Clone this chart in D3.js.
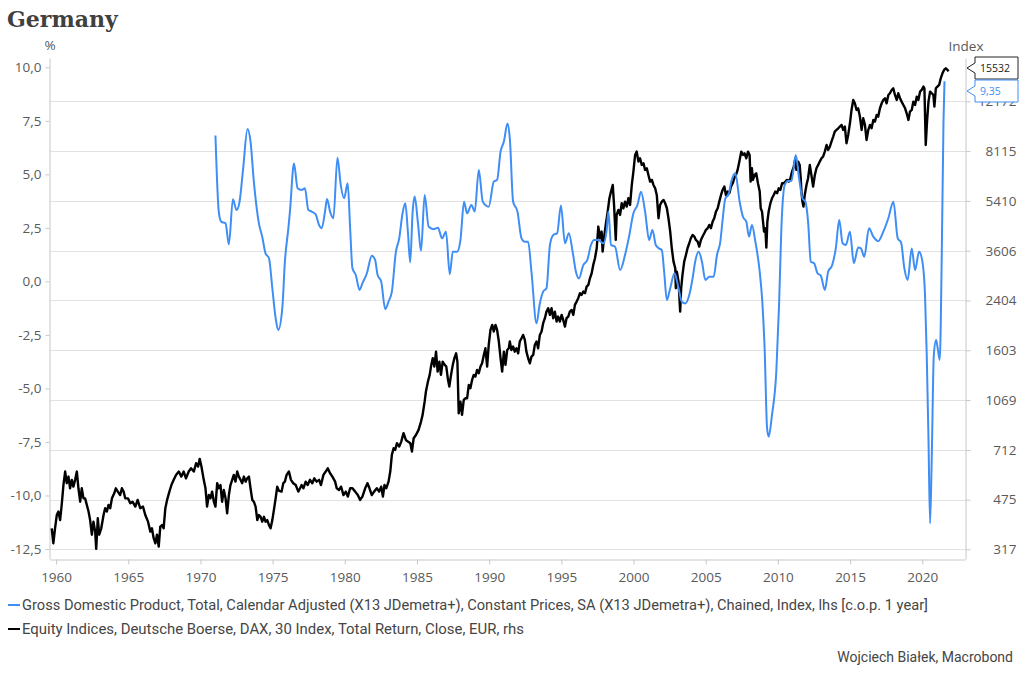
<!DOCTYPE html>
<html>
<head>
<meta charset="utf-8">
<script src="https://cdn.jsdelivr.net/npm/d3@7"></script>
<style>
  html, body { margin: 0; padding: 0; background: #fff; }
  svg { display: block; }
</style>
</head>
<body>
<svg id="chart" width="1024" height="676"></svg>
<script>
// ---------------- DATA ----------------
const titleText = "Germany";
const leftUnit = "%";
const rightUnit = "Index";
const xTickYears = [1960, 1965, 1970, 1975, 1980, 1985, 1990, 1995, 2000, 2005, 2010, 2015, 2020];
const leftTicks = [-12.5, -10, -7.5, -5, -2.5, 0, 2.5, 5, 7.5, 10];
const rightTicks = [317, 475, 712, 1069, 1603, 2404, 3606, 5410, 8115, 12172];
const legendLabels = [
  "Gross Domestic Product, Total, Calendar Adjusted (X13 JDemetra+), Constant Prices, SA (X13 JDemetra+), Chained, Index, lhs [c.o.p. 1 year]",
  "Equity Indices, Deutsche Boerse, DAX, 30 Index, Total Return, Close, EUR, rhs"
];
const creditText = "Wojciech Białek, Macrobond";

// GDP, % change over 1 year (lhs)
const gdpYears = [1971.04,1971.27,1971.44,1971.74,1971.97,1972.25,1972.50,1972.71,1972.96,1973.26,1973.47,1973.70,1974.05,1974.28,1974.51,1974.75,1974.98,1975.21,1975.39,1975.67,1975.85,1976.09,1976.20,1976.48,1976.73,1977.01,1977.24,1977.47,1977.70,1977.98,1978.22,1978.40,1978.63,1978.77,1978.98,1979.21,1979.49,1979.72,1979.95,1980.20,1980.37,1980.53,1980.76,1981.02,1981.22,1981.53,1981.87,1982.10,1982.27,1982.52,1982.80,1983.03,1983.26,1983.54,1983.77,1984.00,1984.19,1984.37,1984.53,1984.70,1984.84,1985.07,1985.28,1985.53,1985.81,1986.16,1986.46,1986.73,1987.01,1987.27,1987.48,1987.78,1988.01,1988.26,1988.47,1988.77,1989.00,1989.28,1989.56,1989.97,1990.32,1990.55,1990.79,1991.02,1991.27,1991.43,1991.66,1991.96,1992.24,1992.47,1992.70,1992.93,1993.28,1993.51,1993.74,1993.97,1994.21,1994.44,1994.71,1994.97,1995.25,1995.52,1995.78,1996.01,1996.22,1996.52,1996.80,1997.05,1997.28,1997.56,1997.91,1998.14,1998.26,1998.44,1998.72,1999.07,1999.41,1999.69,1999.99,2000.27,2000.52,2000.80,2001.08,2001.31,2001.54,2001.77,2001.96,2002.12,2002.31,2002.54,2002.84,2003.07,2003.35,2003.58,2003.86,2004.09,2004.27,2004.51,2004.74,2004.97,2005.25,2005.55,2005.78,2006.01,2006.17,2006.36,2006.59,2006.77,2007.05,2007.35,2007.58,2007.81,2008.00,2008.20,2008.44,2008.74,2008.92,2009.08,2009.25,2009.36,2009.59,2009.89,2010.08,2010.24,2010.47,2010.70,2010.94,2011.24,2011.47,2011.70,2011.91,2012.09,2012.28,2012.51,2012.74,2012.97,2013.25,2013.48,2013.76,2014.01,2014.25,2014.48,2014.71,2014.99,2015.26,2015.56,2015.75,2015.98,2016.31,2016.61,2016.95,2017.30,2017.65,2018.00,2018.30,2018.53,2018.76,2018.99,2019.27,2019.50,2019.78,2020.01,2020.19,2020.31,2020.43,2020.54,2020.66,2020.80,2020.96,2021.07,2021.21,2021.35,2021.47,2021.54];
const gdpValues = [6.81,3.26,2.79,2.71,1.73,3.84,3.33,3.72,5.28,7.12,6.53,4.66,2.71,2.09,1.31,1.08,-0.32,-1.72,-2.27,-1.26,0.92,2.48,3.26,5.51,4.35,4.27,4.35,3.34,3.26,3.13,2.63,2.48,3.26,3.85,3.26,2.95,5.78,4.50,3.88,4.58,2.48,0.61,0.30,-0.40,-0.09,0.38,1.20,1.00,0.30,-0.01,-1.30,-0.94,-0.48,1.39,2.01,3.18,3.65,2.32,0.89,3.26,3.96,2.71,1.42,4.03,2.55,2.44,2.51,2.01,2.32,0.33,1.39,1.39,1.93,3.72,3.18,3.57,3.26,5.20,3.72,3.49,4.66,4.74,6.06,6.53,7.38,6.68,3.72,3.26,2.01,1.85,1.85,0.45,-1.96,-1.03,-0.48,-0.32,1.70,2.17,2.25,3.54,1.78,2.25,1.39,0.45,0.14,0.76,1.00,1.70,1.93,1.93,1.78,2.40,3.26,1.70,1.62,0.53,1.23,2.09,3.18,3.57,4.19,3.26,1.93,2.40,1.70,1.54,1.46,0.45,-0.87,-0.32,0.38,-0.17,-0.95,-1.03,-0.64,0.14,0.92,1.39,0.92,0.07,0.22,0.22,1.23,1.85,2.87,3.88,4.07,4.66,5.05,3.72,3.02,2.79,2.09,2.63,1.85,0.45,-0.95,-3.13,-6.86,-7.25,-6.24,-4.21,-1.10,2.48,4.50,4.69,4.69,5.90,4.81,3.88,3.72,2.79,0.92,0.85,0.38,0.27,-0.40,0.45,0.76,1.54,2.87,1.78,1.70,2.32,0.85,1.58,1.54,1.15,2.48,2.09,1.88,2.32,2.95,3.72,2.01,1.82,0.61,0.07,1.54,0.53,1.39,0.92,-0.64,-3.44,-7.33,-11.30,-8.11,-3.44,-2.74,-3.13,-3.67,1.23,7.46,9.35];

// DAX total return index (rhs, log scale)
const daxYears = [1959.70,1959.81,1959.93,1960.05,1960.16,1960.28,1960.39,1960.51,1960.63,1960.74,1960.86,1960.97,1961.09,1961.20,1961.32,1961.44,1961.55,1961.67,1961.78,1961.90,1962.01,1962.13,1962.25,1962.36,1962.48,1962.59,1962.71,1962.78,1962.89,1962.99,1963.13,1963.29,1963.40,1963.52,1963.63,1963.75,1963.87,1964.03,1964.14,1964.28,1964.44,1964.56,1964.68,1964.79,1964.98,1965.14,1965.30,1965.49,1965.65,1965.83,1966.02,1966.18,1966.37,1966.53,1966.64,1966.76,1966.88,1966.99,1967.11,1967.22,1967.34,1967.45,1967.57,1967.69,1967.85,1967.99,1968.15,1968.31,1968.50,1968.68,1968.84,1969.00,1969.19,1969.35,1969.54,1969.70,1969.84,1969.95,1970.07,1970.23,1970.35,1970.46,1970.58,1970.69,1970.81,1970.93,1971.04,1971.16,1971.27,1971.39,1971.50,1971.62,1971.74,1971.85,1971.97,1972.08,1972.20,1972.31,1972.43,1972.55,1972.66,1972.78,1972.89,1973.01,1973.13,1973.24,1973.36,1973.47,1973.59,1973.70,1973.82,1973.94,1974.05,1974.17,1974.28,1974.40,1974.51,1974.63,1974.75,1974.86,1974.98,1975.09,1975.21,1975.32,1975.44,1975.62,1975.74,1975.85,1975.97,1976.13,1976.27,1976.43,1976.60,1976.78,1976.90,1977.01,1977.13,1977.29,1977.43,1977.59,1977.75,1977.89,1978.05,1978.22,1978.35,1978.52,1978.68,1978.82,1978.98,1979.14,1979.33,1979.44,1979.60,1979.74,1979.91,1980.07,1980.21,1980.37,1980.53,1980.72,1980.90,1981.06,1981.22,1981.41,1981.57,1981.71,1981.87,1982.03,1982.22,1982.38,1982.52,1982.64,1982.75,1982.87,1983.03,1983.15,1983.26,1983.38,1983.49,1983.61,1983.77,1983.91,1984.07,1984.23,1984.37,1984.54,1984.65,1984.77,1984.93,1985.11,1985.28,1985.39,1985.53,1985.62,1985.76,1985.88,1985.99,1986.09,1986.20,1986.32,1986.43,1986.55,1986.66,1986.78,1986.92,1987.03,1987.15,1987.24,1987.36,1987.48,1987.59,1987.71,1987.80,1987.89,1988.01,1988.12,1988.24,1988.35,1988.47,1988.59,1988.70,1988.82,1988.93,1989.05,1989.16,1989.28,1989.40,1989.51,1989.63,1989.74,1989.86,1989.97,1990.09,1990.21,1990.32,1990.44,1990.55,1990.67,1990.79,1990.90,1991.02,1991.13,1991.25,1991.36,1991.43,1991.54,1991.66,1991.77,1991.89,1992.01,1992.12,1992.24,1992.35,1992.47,1992.58,1992.70,1992.82,1992.93,1993.05,1993.16,1993.28,1993.39,1993.51,1993.63,1993.74,1993.86,1993.97,1994.09,1994.21,1994.32,1994.44,1994.55,1994.67,1994.78,1994.90,1995.02,1995.13,1995.25,1995.36,1995.48,1995.59,1995.71,1995.83,1995.94,1996.06,1996.17,1996.29,1996.40,1996.52,1996.64,1996.75,1996.87,1996.98,1997.10,1997.21,1997.33,1997.45,1997.56,1997.68,1997.79,1997.86,1997.98,1998.09,1998.21,1998.33,1998.44,1998.56,1998.65,1998.77,1998.83,1998.95,1999.07,1999.18,1999.30,1999.41,1999.53,1999.64,1999.76,1999.88,1999.99,2000.11,2000.22,2000.34,2000.45,2000.57,2000.69,2000.80,2000.92,2001.03,2001.15,2001.27,2001.38,2001.50,2001.61,2001.73,2001.84,2001.96,2002.08,2002.19,2002.31,2002.42,2002.54,2002.65,2002.77,2002.89,2002.93,2003.00,2003.12,2003.23,2003.30,2003.39,2003.51,2003.63,2003.74,2003.86,2003.97,2004.09,2004.21,2004.32,2004.44,2004.55,2004.67,2004.78,2004.90,2005.01,2005.13,2005.25,2005.36,2005.48,2005.59,2005.71,2005.83,2005.94,2006.06,2006.17,2006.29,2006.40,2006.52,2006.64,2006.75,2006.87,2006.98,2007.10,2007.21,2007.33,2007.46,2007.58,2007.69,2007.81,2007.93,2008.04,2008.11,2008.20,2008.27,2008.39,2008.50,2008.62,2008.74,2008.81,2008.90,2008.97,2009.04,2009.13,2009.20,2009.27,2009.36,2009.48,2009.59,2009.71,2009.82,2009.94,2010.06,2010.17,2010.29,2010.40,2010.52,2010.63,2010.75,2010.87,2010.98,2011.10,2011.21,2011.28,2011.40,2011.51,2011.58,2011.63,2011.70,2011.77,2011.86,2011.98,2012.09,2012.21,2012.32,2012.44,2012.56,2012.67,2012.79,2012.90,2013.02,2013.13,2013.25,2013.37,2013.48,2013.60,2013.71,2013.83,2013.94,2014.06,2014.18,2014.29,2014.41,2014.52,2014.64,2014.75,2014.87,2014.99,2015.10,2015.22,2015.33,2015.45,2015.56,2015.68,2015.80,2015.91,2016.03,2016.14,2016.26,2016.38,2016.49,2016.61,2016.72,2016.84,2016.95,2017.07,2017.19,2017.30,2017.42,2017.53,2017.65,2017.76,2017.88,2017.99,2018.11,2018.23,2018.34,2018.46,2018.57,2018.69,2018.81,2018.92,2019.04,2019.15,2019.27,2019.38,2019.50,2019.62,2019.73,2019.85,2019.96,2020.08,2020.15,2020.24,2020.33,2020.43,2020.54,2020.66,2020.77,2020.84,2020.94,2021.05,2021.17,2021.28,2021.40,2021.51,2021.63,2021.75,2021.82];
const daxValues = [376,333,376,419,431,402,455,535,597,543,573,521,558,528,558,597,521,467,521,480,480,455,431,402,357,397,366,318,408,357,376,419,443,431,455,443,480,500,521,507,493,521,507,480,480,461,467,449,474,443,449,419,397,366,376,347,333,357,324,381,386,376,443,474,507,535,558,581,597,573,597,565,597,613,597,639,622,662,622,558,521,449,493,480,507,467,449,543,521,535,467,514,480,425,493,535,558,581,550,597,573,558,543,573,550,565,573,521,474,467,449,402,419,413,397,413,397,402,386,376,402,437,480,528,510,507,543,550,581,597,558,543,535,507,521,535,521,550,535,558,543,565,550,558,535,581,597,613,589,573,550,521,514,528,493,507,487,521,521,507,493,474,487,521,543,521,493,507,521,507,528,487,535,521,550,597,684,722,712,752,732,762,816,772,762,752,703,783,804,838,897,947,1055,1146,1243,1312,1423,1502,1404,1585,1348,1461,1312,1461,1423,1404,1260,1193,1312,1423,1502,1564,1461,960,1055,947,1070,1084,1084,1209,1177,1260,1312,1294,1366,1330,1404,1442,1543,1629,1404,1674,1892,1971,1867,1971,1892,1721,1502,1348,1585,1423,1607,1629,1721,1607,1652,1585,1629,1564,1721,1768,1816,1744,1585,1502,1442,1522,1543,1674,1721,1629,1816,1867,1998,2081,2196,2257,2138,2257,2081,2196,2025,2109,2025,2138,2053,1944,2081,2109,2196,2226,2138,2319,2383,2449,2550,2515,2585,2550,2692,2729,2881,3001,3212,3391,3679,4389,3991,4214,3580,4100,4509,4958,5527,5836,6160,5235,3937,4826,5026,4826,5307,5095,5379,5164,5527,5235,6160,6868,7866,8082,7450,7656,7252,7350,6962,7056,6685,6331,6417,6160,5996,5679,4696,5235,5379,5453,5307,5095,4696,4214,3679,3300,3125,2656,3042,2804,2196,2656,2961,3300,3484,3679,3832,3991,4100,4046,3937,3884,3729,3937,4046,4157,4271,4329,4449,4329,4571,4696,4958,5095,5379,5679,5915,6078,5679,5836,5757,6078,6245,6505,6685,6962,7450,8082,7866,7974,7656,8082,7866,6331,7056,6417,6685,6775,6245,5836,5095,4958,4571,4214,4329,3699,4571,4958,5307,5527,5679,5836,5757,5996,5915,6245,6245,6331,6417,6331,6505,6868,7153,7656,6962,7450,7252,6505,5836,5379,5164,5679,6160,6505,7252,6685,6078,6685,7056,7252,7450,7656,7760,8082,8533,8193,8418,8769,9132,9512,9641,9772,9906,10043,9641,9906,8650,9256,10179,11346,12309,11980,11346,11502,10747,9641,10601,10043,8887,9641,10043,9772,10459,10318,10894,10747,11502,11980,12309,12478,11980,12819,12995,13352,13535,12819,12309,12995,12478,12142,11818,11502,11043,10459,11193,11346,12142,11818,12647,12309,13174,13352,13720,13535,8533,10318,12142,13174,12995,12819,11658,13535,13720,13906,14683,15294,15715,15928,15715,15532];

// ---------------- LAYOUT ----------------
const W = 1024, H = 676;
const plot = { left: 50, right: 965, top: 58, bottom: 559 };
const blue = "#3f8ef5";
const axisColor = "#c8c8c8";
const gridColor = "#e2e2e2";
const textColor = "#5a5a5a";
const tickFont = "'Open Sans', 'Noto Sans', sans-serif";

const svg = d3.select("#chart");

const x = d3.scaleLinear().domain([1959.58, 2022.96]).range([plot.left, plot.right]);
const yL = d3.scaleLinear().domain([-12.967, 10.434]).range([plot.bottom, plot.top]);
const yR = d3.scaleLog().domain([292.9, 17320]).range([plot.bottom, plot.top]);

const gdp = d3.zip(gdpYears, gdpValues).map(([t, v]) => ({ t, v }));
const dax = d3.zip(daxYears, daxValues).map(([t, v]) => ({ t, v }));

// Title
svg.append("text")
  .attr("x", 7).attr("y", 27)
  .attr("font-family", "'DejaVu Serif', serif")
  .attr("font-weight", "bold")
  .attr("font-size", 22)
  .attr("fill", "#404040")
  .text(titleText);

// Gridlines (right-axis ticks)
svg.append("g").selectAll("line").data(rightTicks).join("line")
  .attr("x1", plot.left).attr("x2", plot.right)
  .attr("y1", d => Math.round(yR(d)) + 0.5).attr("y2", d => Math.round(yR(d)) + 0.5)
  .attr("stroke", gridColor).attr("stroke-width", 1);

function styleAxis(g) {
  g.select(".domain").attr("stroke", axisColor);
  g.selectAll(".tick line").attr("stroke", axisColor);
  g.selectAll("text").attr("fill", textColor).attr("font-family", tickFont).attr("font-size", 13.5);
}

// X axis
svg.append("g")
  .attr("transform", `translate(0,${plot.bottom + 0.5})`)
  .call(d3.axisBottom(x).tickValues(xTickYears).tickFormat(d3.format("d")).tickSize(5).tickSizeOuter(0).tickPadding(8))
  .call(styleAxis);

// Left axis
svg.append("g")
  .attr("transform", `translate(${plot.left - 0.5},0)`)
  .call(d3.axisLeft(yL).tickValues(leftTicks).tickFormat(d => d.toFixed(1).replace(".", ",")).tickSize(4).tickSizeOuter(0).tickPadding(4))
  .call(styleAxis);

// Right axis
const rAxis = svg.append("g")
  .attr("transform", `translate(${plot.right + 0.5},0)`)
  .call(d3.axisRight(yR).tickValues(rightTicks).tickFormat(d3.format("d")).tickSize(5).tickSizeOuter(0))
  .call(styleAxis);
rAxis.selectAll(".tick text").attr("text-anchor", "end").attr("x", 51);

// Units
svg.append("text").attr("x", plot.left).attr("y", 50).attr("text-anchor", "middle")
  .attr("font-family", tickFont).attr("font-size", 13.5).attr("fill", textColor).text(leftUnit);
svg.append("text").attr("x", plot.right + 1).attr("y", 51).attr("text-anchor", "middle")
  .attr("font-family", tickFont).attr("font-size", 13.5).attr("fill", textColor).text(rightUnit);

// Lines
svg.append("clipPath").attr("id", "plotclip").append("rect")
  .attr("x", plot.left).attr("y", plot.top - 4).attr("width", plot.right - plot.left).attr("height", plot.bottom - plot.top + 4);

svg.append("path").datum(dax)
  .attr("clip-path", "url(#plotclip)")
  .attr("fill", "none").attr("stroke", "#000").attr("stroke-width", 2.4).attr("stroke-linejoin", "round")
  .attr("d", d3.line().x(d => x(d.t)).y(d => yR(d.v)));

svg.append("path").datum(gdp)
  .attr("clip-path", "url(#plotclip)")
  .attr("fill", "none").attr("stroke", blue).attr("stroke-width", 2).attr("stroke-linejoin", "round")
  .attr("d", d3.line().curve(d3.curveMonotoneX).x(d => x(d.t)).y(d => yL(d.v)));

// End-value callouts (dodged around their mean position, kept inside the top)
const lastDax = dax[dax.length - 1].v;
const lastGdp = gdp[gdp.length - 1].v;
const boxL = 975, boxR = 1018, boxH = 22, tip = 967, gap = 23;
const mid = (yR(lastDax) + yL(lastGdp)) / 2;
let c1 = mid - gap / 2, c2 = mid + gap / 2;
const minC = plot.top + 10;
if (c1 < minC) { c2 += minC - c1; c1 = minC; }
function callout(cy, stroke, label, fill) {
  const top = cy - boxH / 2, bot = cy + boxH / 2;
  const p = d3.path();
  p.moveTo(tip, cy);
  p.lineTo(boxL, cy - 5);
  p.lineTo(boxL, top);
  p.lineTo(boxR, top);
  p.lineTo(boxR, bot);
  p.lineTo(boxL, bot);
  p.lineTo(boxL, cy + 5);
  p.closePath();
  svg.append("path").attr("d", p.toString()).attr("fill", "#fff").attr("stroke", stroke).attr("stroke-width", 1);
  svg.append("text").attr("x", 980).attr("y", cy + 4)
    .attr("font-family", tickFont).attr("font-size", 10.5).attr("fill", fill).text(label);
}
callout(c1, "#222", d3.format("d")(lastDax), "#222");
callout(c2, blue, lastGdp.toFixed(2).replace(".", ","), blue);

// Legend
const legendColors = [blue, "#000"];
legendLabels.forEach((lab, i) => {
  const cy = 605 + i * 24;
  svg.append("line").attr("x1", 8).attr("x2", 20).attr("y1", cy).attr("y2", cy)
    .attr("stroke", legendColors[i]).attr("stroke-width", 2);
  svg.append("text").attr("x", 22).attr("y", cy + 5)
    .attr("font-family", "Roboto, 'Liberation Sans', sans-serif").attr("font-size", 14)
    .attr("fill", "#454545")
    .attr("textLength", i === 0 ? 906 : 502).attr("lengthAdjust", "spacingAndGlyphs")
    .text(lab);
});

svg.append("text").attr("x", 1013).attr("y", 662).attr("text-anchor", "end")
  .attr("font-family", "Roboto, 'Liberation Sans', sans-serif").attr("font-size", 14)
  .attr("fill", "#454545").text(creditText);
</script>
</body>
</html>
